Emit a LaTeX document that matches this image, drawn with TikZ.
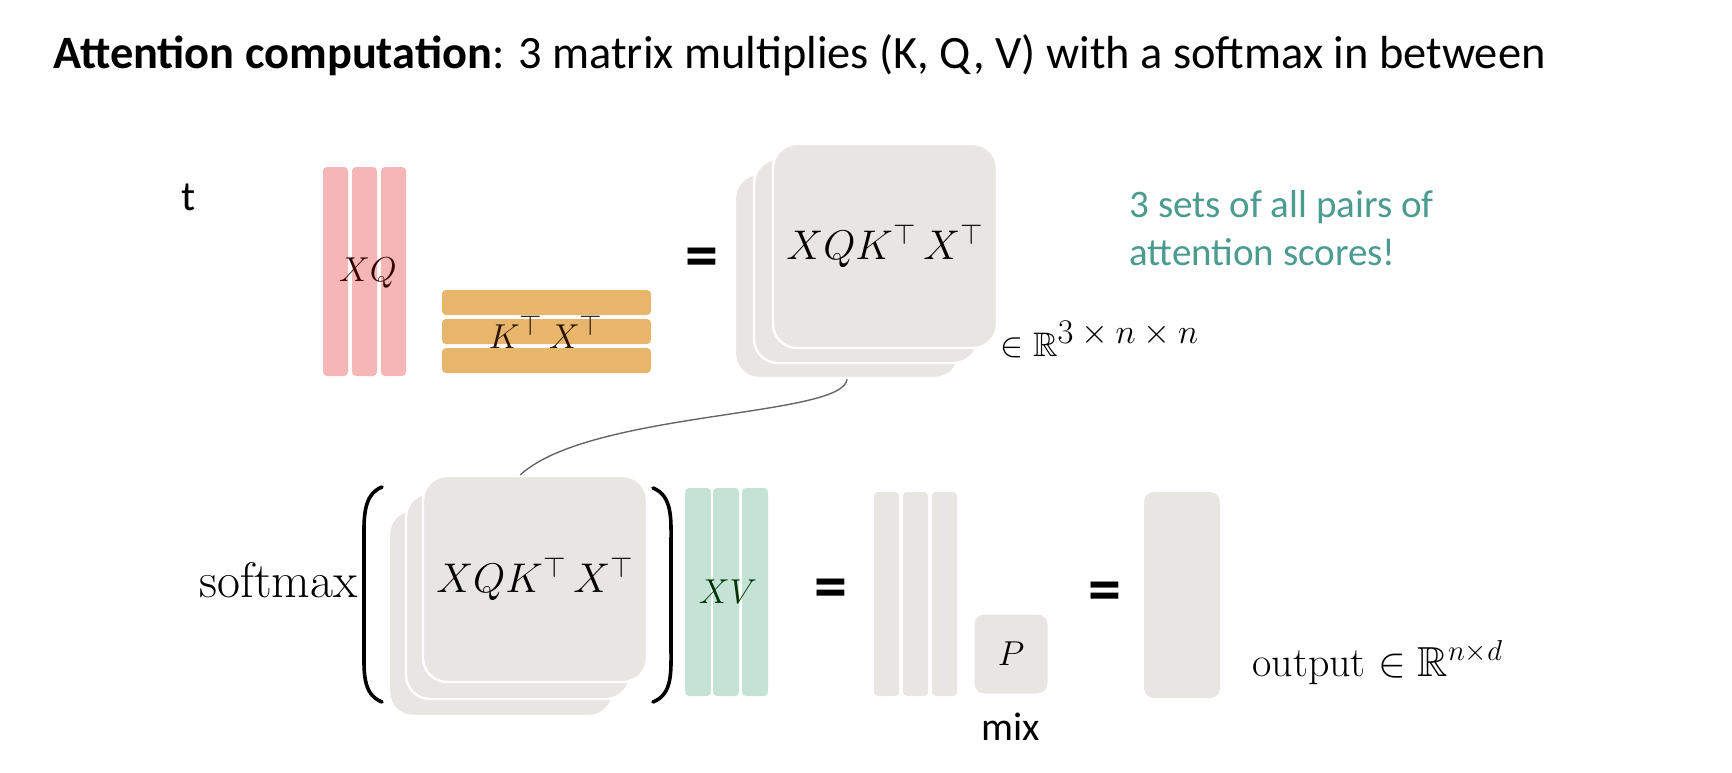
\documentclass[tikz,border=0pt]{standalone}
\usepackage{fontspec}
\usepackage{amsmath}
\usepackage{amssymb}
\newfontfamily\carlito{Carlito}
\usetikzlibrary{calc}
\definecolor{qpink}{HTML}{F5B7B6}
\definecolor{korange}{HTML}{E7B56C}
\definecolor{vgreen}{HTML}{C4E2D5}
\definecolor{mgray}{HTML}{E7E6E3}
\definecolor{noteteal}{HTML}{4B9B8F}

\begin{document}
\begin{tikzpicture}[x=0.5pt,y=-0.5pt,
		sqbox/.style={draw=white, line width=1.2pt, fill=mgray, rounded corners=12pt,
			minimum width=112pt, minimum height=102pt, inner sep=0pt},
		mathlbl/.style={inner sep=0pt, font=\fontsize{19}{23}\selectfont},
		eqsign/.style={inner sep=0pt, font=\carlito\bfseries\fontsize{33}{36}\selectfont},
		paren/.style={line width=1.8pt, line cap=round}]
	\useasboundingbox (0,0) rectangle (1732,772);

	\node[anchor=base west, inner sep=0pt, font=\carlito\fontsize{23.2}{28}\selectfont] (title) at (53,68)
		{\textbf{Attention computation}: 3 matrix multiplies (K, Q, V) with a softmax in between};
	\node[anchor=base west, inner sep=0pt, font=\carlito\fontsize{21}{25}\selectfont] (t) at (181,210) {t};

	% queries and keys
	\foreach \x in {323,352,381}
	\fill[qpink, rounded corners=2pt] (\x,167) rectangle ++(25,209);
	\node[mathlbl, text=black!80!red] (xq) at (368,273) {$XQ$};

	\foreach \y in {290,319,348}
	\fill[korange, rounded corners=2pt] (442,\y) rectangle ++(209,25);
	\node[mathlbl, text=black!85!orange] (ktxt) at (546,332) {$K^\top\,X^\top$};

	\node[eqsign] (eq1) at (702,263) {=};

	% three score matrices
	\node[sqbox] (scoresC) at (847,276) {};
	\node[sqbox] (scoresB) at (866,261) {};
	\node[sqbox, font=\fontsize{20}{24}\selectfont] (scoresA) at (885,246) {$XQK^\top\,X^\top$};
	\node[anchor=base west, inner sep=0pt, font=\fontsize{17}{20}\selectfont] (dim1) at (1000,356)
		{$\in \mathbb{R}^{\textstyle 3\times n\times n}$};

	\node[anchor=base west, inner sep=0pt, align=left, text=noteteal,
		font=\carlito\fontsize{19.5}{24}\selectfont] (note) at (1129,265)
		{3 sets of all pairs of\\attention scores!};

	% softmax of the scores
	\node[anchor=base east, inner sep=0pt, font=\fontsize{25}{29}\selectfont] (softmax) at (358,597) {softmax};
	\draw[paren] (382,487) .. controls (362,495) and (364,520) .. (364,545) -- (364,645)
		.. controls (364,672) and (362,694) .. (382,702);

	\node[sqbox, minimum height=103pt] (smC) at (501,613) {};
	\node[sqbox, minimum height=103pt] (smB) at (518,596) {};
	\node[sqbox, minimum height=103pt, font=\fontsize{20}{24}\selectfont] (smA) at (535,579) {$XQK^\top\,X^\top$};

	\draw[paren] (653,488) .. controls (673,496) and (671,520) .. (671,545) -- (671,645)
		.. controls (671,672) and (673,694) .. (653,702);

	\draw[black!60, line width=0.7pt] (scoresC.south) .. controls +(-3,38) and +(70,-64) .. (smA.98);

	% values
	\foreach \x in {685,713,742}
	\fill[vgreen, rounded corners=2pt] (\x,488) rectangle ++(26,208);
	\node[mathlbl, text=black!80!green] (xv) at (728,592) {$XV$};

	\node[eqsign] (eq2) at (831,594) {=};

	\foreach \x in {874,903,932}
	\fill[mgray, rounded corners=2pt] (\x,492) rectangle ++(25,204);

	\node[fill=mgray, rounded corners=5pt, minimum width=36.5pt, minimum height=39.5pt,
		inner sep=0pt, font=\fontsize{19}{23}\selectfont] (p) at (1011,654) {$P$};
	\node[inner sep=0pt, font=\carlito\fontsize{20}{24}\selectfont] (mix) at (1011,727) {mix};

	\node[eqsign] (eq3) at (1105,597) {=};

	\node[fill=mgray, rounded corners=5pt, minimum width=38pt, minimum height=103pt,
		inner sep=0pt] (out) at (1182,595) {};
	\node[anchor=base west, inner sep=0pt, font=\fontsize{21}{25}\selectfont] (dim2) at (1252,676)
		{output $\in \mathbb{R}^{n\times d}$};
\end{tikzpicture}
\end{document}
